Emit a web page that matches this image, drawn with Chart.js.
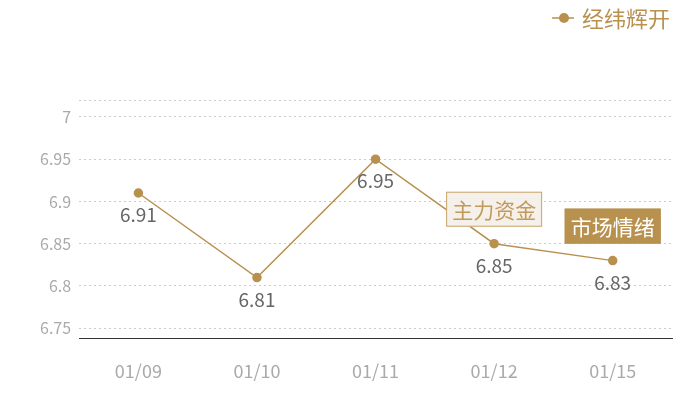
<!DOCTYPE html>
<html>
<head>
<meta charset="utf-8">
<script src="https://cdn.jsdelivr.net/npm/chart.js@4/dist/chart.umd.min.js"></script>
<style>
  body { margin: 0; background: #fff; }
  #wrap { width: 700px; height: 400px; }
</style>
</head>
<body>
<div id="wrap"><canvas id="c"></canvas></div>
<script>
const dates = ['01/09', '01/10', '01/11', '01/12', '01/15'];
const prices = [6.91, 6.81, 6.95, 6.85, 6.83];
const yTicks = [6.75, 6.8, 6.85, 6.9, 6.95, 7, 7.02];
const tags = [
  { index: 3, text: '主力资金', fill: '#f5f0e9', border: '#c9a46c', color: '#c19b5e' },
  { index: 4, text: '市场情绪', fill: '#b8914f', border: '#b8914f', color: '#ffffff' }
];

const gold = '#b8914f';
const cjk = '"Noto Sans CJK SC", "Noto Sans", sans-serif';

// legend drawn by hand, top right like the original
const legendBox = {
  id: 'legendBox',
  afterDraw(chart) {
    const ctx = chart.ctx;
    const name = chart.data.datasets[0].label;
    ctx.save();
    ctx.font = '22px ' + cjk;
    const tw = ctx.measureText(name).width;
    const right = 670, cy = 18;
    const tx = right - tw;
    ctx.strokeStyle = gold;
    ctx.lineWidth = 1.5;
    ctx.beginPath(); ctx.moveTo(tx - 30, cy); ctx.lineTo(tx - 8, cy); ctx.stroke();
    ctx.fillStyle = gold;
    ctx.beginPath(); ctx.arc(tx - 18, cy, 5, 0, Math.PI * 2); ctx.fill();
    ctx.textBaseline = 'middle';
    ctx.textAlign = 'left';
    ctx.fillText(name, tx, cy + 1);
    ctx.restore();
  }
};

const pointLabels = {
  id: 'pointLabels',
  afterDatasetsDraw(chart) {
    const ctx = chart.ctx;
    const meta = chart.getDatasetMeta(0);
    ctx.save();
    ctx.font = '19px ' + cjk;
    ctx.fillStyle = '#666';
    ctx.textAlign = 'center';
    ctx.textBaseline = 'middle';
    meta.data.forEach((p, i) => {
      ctx.fillText(prices[i].toFixed(2), p.x, p.y + 22);
    });
    ctx.font = '21px ' + cjk;
    tags.forEach(t => {
      const p = meta.data[t.index];
      const w = ctx.measureText(t.text).width + 12;
      const h = 35;
      const x = p.x - w / 2;
      const y = p.y - 17 - h;
      ctx.fillStyle = t.fill;
      ctx.fillRect(x, y, w, h);
      ctx.strokeStyle = t.border;
      ctx.lineWidth = 1;
      ctx.strokeRect(x + 0.5, y + 0.5, w - 1, h - 1);
      ctx.fillStyle = t.color;
      ctx.fillText(t.text, p.x, y + h / 2 + 1);
    });
    ctx.restore();
  }
};

new Chart(document.getElementById('c'), {
  type: 'line',
  data: {
    labels: dates,
    datasets: [{
      label: '经纬辉开',
      data: prices,
      borderColor: gold,
      backgroundColor: gold,
      borderWidth: 1.5,
      pointRadius: 4,
      pointHoverRadius: 4,
      pointStyle: 'circle',
      tension: 0
    }]
  },
  options: {
    responsive: true,
    maintainAspectRatio: false,
    animation: false,
    layout: { padding: { left: 32, right: 28, top: 100, bottom: 4 } },
    plugins: {
      legend: { display: false },
      tooltip: { enabled: false }
    },
    scales: {
      x: {
        offset: true,
        grid: { display: false },
        border: { color: '#333', width: 1 },
        ticks: { color: '#aaa', font: { size: 18, family: cjk }, padding: 14 }
      },
      y: {
        min: 6.738,
        max: 7.02,
        afterBuildTicks(scale) {
          scale.ticks = yTicks.map(v => ({ value: v }));
        },
        border: { display: false, dash: [2, 3] },
        grid: { color: '#ccc', drawTicks: false },
        ticks: {
          color: '#aaa',
          font: { size: 16, family: cjk },
          padding: 8,
          callback: v => (v === 7.02 ? '' : String(v))
        }
      }
    }
  },
  plugins: [pointLabels, legendBox]
});
</script>
</body>
</html>
